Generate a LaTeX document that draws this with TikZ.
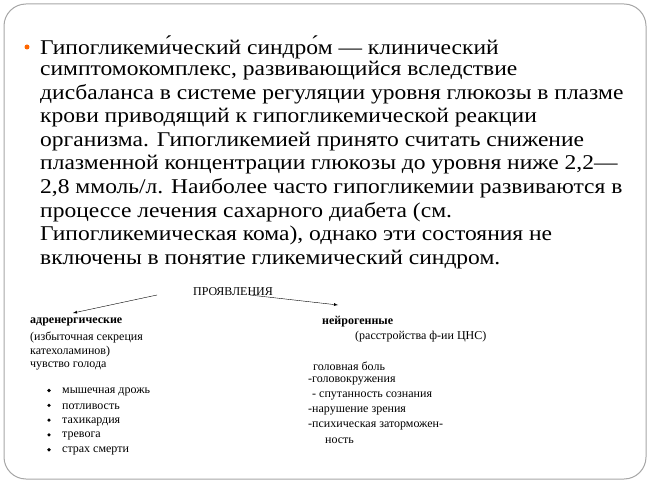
\documentclass[tikz,border=0pt]{standalone}
\usepackage{fontspec}
\setmainfont{Liberation Serif}
\begin{document}
\begin{tikzpicture}[x=1pt,y=-1pt,
  main/.style={anchor=west,inner sep=0pt,font=\fontsize{21}{24}\selectfont},
  sm/.style={anchor=west,inner sep=0pt,font=\fontsize{12}{14}\selectfont},
  bsm/.style={sm,font=\fontsize{12}{14}\selectfont\bfseries},
  arr/.style={-latex,thin}]
\useasboundingbox (0,0) rectangle (650,486);
\draw[gray!70,line width=1pt,rounded corners=22pt] (4,4) rectangle (646,479);
\fill[orange!80!red] (27,47) circle (2.5);
\foreach \t [count=\i] in {{Гипогликеми́ческий синдро́м — клинический},
 {симптомокомплекс, развивающийся вследствие},
 {дисбаланса в системе регуляции уровня глюкозы в плазме},
 {крови приводящий к гипогликемической реакции},
 {организма. Гипогликемией принято считать снижение},
 {плазменной концентрации глюкозы до уровня ниже 2,2—},
 {2,8 ммоль/л. Наиболее часто гипогликемии развиваются в},
 {процессе лечения сахарного диабета (см.},
 {Гипогликемическая кома), однако эти состояния не},
 {включены в понятие гликемический синдром.}}
 \node[main] (m\i) at (40,{47+23.6*(\i-1)}) {\addfontfeature{FakeStretch=1.12}\t};
\node[sm] (pr) at (193,292) {ПРОЯВЛЕНИЯ};
\coordinate (pl) at (157,295);
\coordinate (pu) at (250,295);
\node[bsm] (ad) at (30,322) {адренергические};
\node[bsm] (ne) at (322,322) {нейрогенные};
\draw[arr] (pl) -- (73,313) coordinate (al);
\draw[arr] (pu) -- (338,305) coordinate (ar);
\node[sm] (a1) at (30,337) {(избыточная секреция};
\node[sm] (a2) at (30,352) {катехоламинов)};
\node[sm] (a3) at (30,366) {чувство голода};
\foreach \t [count=\i] in {мышечная дрожь,потливость,тахикардия,тревога,страх смерти}{
  \fill (49,{390.5+14.8*(\i-1)}) circle (1.8);
  \node[sm] (b\i) at (62,{392+14.8*(\i-1)}) {\t};}
\node[sm] (r1) at (355,337) {(расстройства ф-ии ЦНС)};
\node[sm] (r2) at (313,366) {головная боль};
\node[sm] (r3) at (308,381) {-головокружения};
\node[sm] (r4) at (312,396) {- спутанность сознания};
\node[sm] (r5) at (308,411) {-нарушение зрения};
\node[sm] (r6) at (308,426) {-психическая заторможен-};
\node[sm] (r7) at (325,441) {ность};
\end{tikzpicture}
\end{document}
